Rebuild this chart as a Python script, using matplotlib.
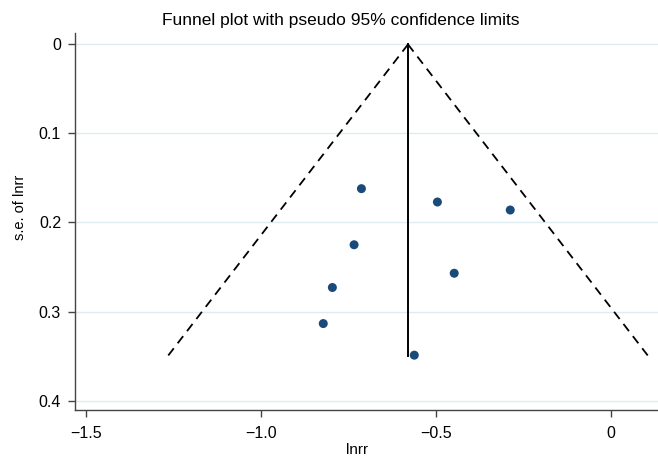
import matplotlib.pyplot as plt
import numpy as np

plt.rcParams["font.family"] = ["Liberation Sans", "DejaVu Sans"]

# study estimates
lnrr = [-0.713, -0.496, -0.288, -0.734, -0.796, -0.448, -0.562, -0.822]
se_lnrr = [0.162, 0.177, 0.186, 0.225, 0.273, 0.257, 0.349, 0.3135]

pooled = -0.58
se_max = 0.35

x_ticks = [-1.5, -1.0, -0.5, 0]
x_labels = ["\u22121.5", "\u22121.0", "\u22120.5", "0"]
y_ticks = [0, 0.1, 0.2, 0.3, 0.4]
y_labels = ["0", "0.1", "0.2", "0.3", "0.4"]

MARKER_COLOR = "#1a4a7a"
GRID_COLOR = "#deebf0"

fig = plt.figure(figsize=(6.58, 4.57), dpi=100)
ax = fig.add_axes([0.114, 0.102, 0.886, 0.825])

se_line = np.array([0.0, se_max])
ax.plot(pooled - 1.96 * se_line, se_line, color="black", linestyle=(0, (5, 3.5)), linewidth=1.3)
ax.plot(pooled + 1.96 * se_line, se_line, color="black", linestyle=(0, (5, 3.5)), linewidth=1.3)
ax.plot([pooled, pooled], [0, se_max], color="black", linewidth=1.4)

ax.scatter(lnrr, se_lnrr, s=42, color=MARKER_COLOR, zorder=3, edgecolors="none")

ax.set_xlim(-1.531, 0.134)
ax.set_ylim(0.411, -0.0124)

ax.set_xticks(x_ticks)
ax.set_xticklabels(x_labels)
ax.set_yticks(y_ticks)
ax.set_yticklabels(y_labels)
ax.yaxis.grid(True, color=GRID_COLOR, linewidth=1)
ax.set_axisbelow(True)

for side in ["top", "right"]:
    ax.spines[side].set_visible(False)
for side in ["left", "bottom"]:
    ax.spines[side].set_color("#444444")
    ax.spines[side].set_linewidth(1)

ax.tick_params(axis="both", direction="out", length=5, width=1, color="#444444",
               labelsize=11.5)
ax.tick_params(axis="x", pad=6)
ax.tick_params(axis="y", pad=5)

ax.set_xlabel("lnrr", fontsize=11)
ax.xaxis.set_label_coords(0.484, -0.086)
ax.set_ylabel("s.e. of lnrr", fontsize=10.5)
ax.yaxis.set_label_coords(-0.094, 0.538)
ax.yaxis.label.set_va("center")

fig.text(341 / 658, 1 - 20 / 457, "Funnel plot with pseudo 95% confidence limits",
         ha="center", va="center", fontsize=12.5)

fig.savefig("out.png", dpi=100)
